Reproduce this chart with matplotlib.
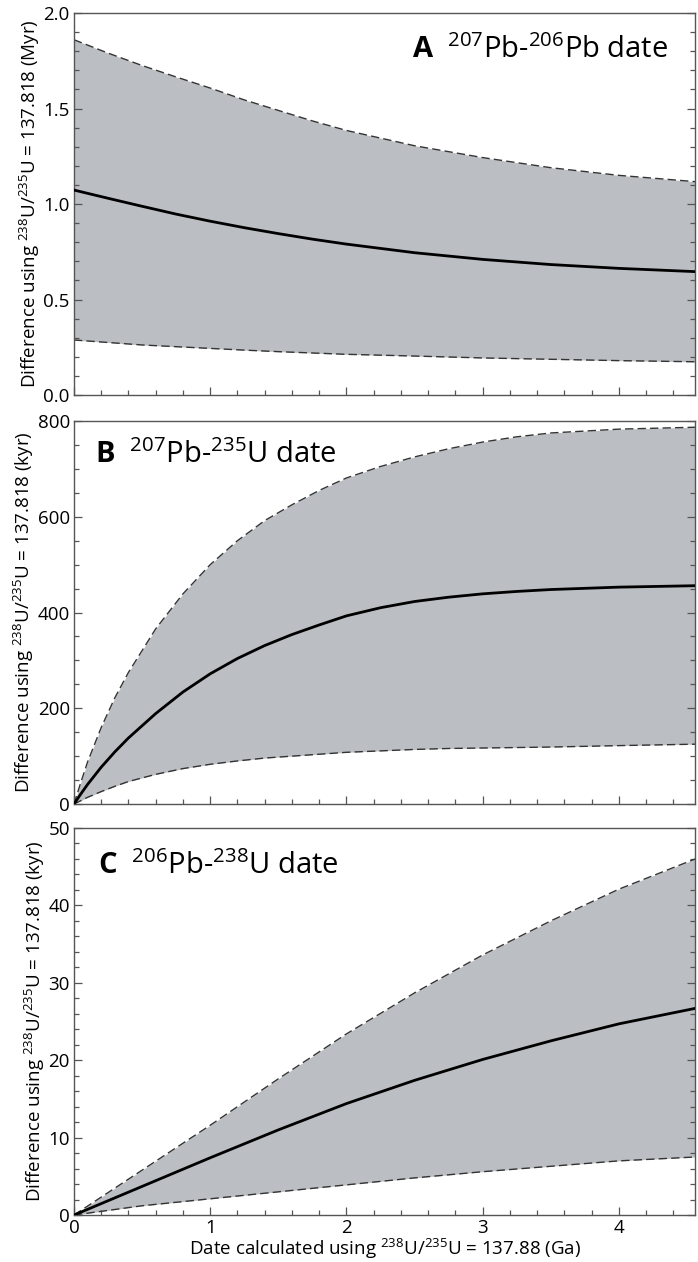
import matplotlib.pyplot as plt
from matplotlib.ticker import MultipleLocator

# --- Dati (data in Ga, differenze nelle unità di ogni pannello) ---
X_MAX = 4.56

x_A = [0, 0.25, 0.5, 0.75, 1.0, 1.25, 1.5, 1.75, 2.0, 2.5, 3.0, 3.5, 4.0, 4.56]
A_mid = [1.073, 1.030, 0.988, 0.947, 0.910, 0.876, 0.845, 0.816, 0.790,
         0.745, 0.710, 0.683, 0.663, 0.646]
A_hi = [1.86, 1.79, 1.725, 1.665, 1.607, 1.545, 1.49, 1.435, 1.385,
        1.305, 1.243, 1.19, 1.15, 1.117]
A_lo = [0.288, 0.275, 0.262, 0.253, 0.244, 0.235, 0.227, 0.220, 0.213,
        0.204, 0.194, 0.187, 0.180, 0.174]

x_B = [0, 0.05, 0.1, 0.2, 0.3, 0.4, 0.6, 0.8, 1.0, 1.2, 1.4, 1.6, 1.8, 2.0,
       2.25, 2.5, 2.75, 3.0, 3.25, 3.5, 4.0, 4.56]
B_mid = [0, 21, 41, 77, 109, 138, 189, 234, 272, 304, 331, 354, 374, 393,
         410, 423, 432, 439, 444, 448, 453, 456]
B_hi = [0, 45, 88, 160, 222, 275, 366, 439, 500, 550, 592, 625, 655, 681,
        705, 725, 742, 756, 767, 775, 783, 787]
B_lo = [0, 7, 14, 26, 37, 47, 62, 74, 83, 90, 96, 100, 104, 108,
        111, 114, 116, 117, 118, 119, 122, 125]

x_C = [0, 0.5, 1.0, 1.5, 2.0, 2.5, 3.0, 3.5, 4.0, 4.56]
C_mid = [0, 3.7, 7.4, 11.0, 14.4, 17.4, 20.1, 22.5, 24.7, 26.7]
C_hi = [0, 5.8, 11.6, 17.6, 23.4, 28.7, 33.6, 38.0, 42.1, 46.0]
C_lo = [0, 1.2, 2.1, 3.0, 3.9, 4.8, 5.6, 6.3, 7.0, 7.5]

FONT = 'Open Sans'
plt.rcParams['font.family'] = [FONT, 'DejaVu Sans']
plt.rcParams['mathtext.fontset'] = 'custom'
plt.rcParams['mathtext.rm'] = FONT
plt.rcParams['mathtext.it'] = FONT
plt.rcParams['mathtext.bf'] = FONT + ':bold'

GRIGIO = '#bbbec2'
BORDO = '#555555'
TRATTEGGIO = (0, (6, 3))

fig = plt.figure(figsize=(6.98, 12.62), dpi=100)
ax_A = fig.add_axes([0.106, 0.687, 0.890, 0.3027])
ax_B = fig.add_axes([0.106, 0.3629, 0.890, 0.3035])
ax_C = fig.add_axes([0.106, 0.0372, 0.890, 0.3067])

pannelli = [
    (ax_A, x_A, A_mid, A_hi, A_lo, (0, 2.0), 0.5, 0.1, 'Myr',
     r'$\mathbf{A}$  $^{207}$Pb-$^{206}$Pb date', (0.957, 0.903), 'right', '%.1f'),
    (ax_B, x_B, B_mid, B_hi, B_lo, (0, 800), 200, 50, 'kyr',
     r'$\mathbf{B}$  $^{207}$Pb-$^{235}$U date', (0.034, 0.911), 'left', '%d'),
    (ax_C, x_C, C_mid, C_hi, C_lo, (0, 50), 10, 2, 'kyr',
     r'$\mathbf{C}$  $^{206}$Pb-$^{238}$U date', (0.038, 0.902), 'left', '%d'),
]

for ax, x, mid, hi, lo, ylim, maj, mino, unita, titolo, pos, ha, fmt in pannelli:
    # banda di incertezza, limiti tratteggiati e curva centrale
    ax.fill_between(x, lo, hi, color=GRIGIO, linewidth=0, zorder=1)
    ax.plot(x, hi, color='#333333', linestyle=TRATTEGGIO, linewidth=1.0, zorder=2)
    ax.plot(x, lo, color='#333333', linestyle=TRATTEGGIO, linewidth=1.0, zorder=2)
    ax.plot(x, mid, color='black', linewidth=2.0, zorder=3)

    ax.set_xlim(0, X_MAX)
    ax.set_ylim(*ylim)
    ax.xaxis.set_major_locator(MultipleLocator(1))
    ax.xaxis.set_minor_locator(MultipleLocator(0.2))
    ax.yaxis.set_major_locator(MultipleLocator(maj))
    ax.yaxis.set_minor_locator(MultipleLocator(mino))
    ax.yaxis.set_major_formatter(plt.FormatStrFormatter(fmt))

    ax.tick_params(which='both', direction='in', top=False, right=True,
                   color=BORDO, width=0.9, labelsize=13.5, pad=3)
    ax.tick_params(which='major', length=6)
    ax.tick_params(which='minor', length=3.5)
    for s in ax.spines.values():
        s.set_color(BORDO)
        s.set_linewidth(1.0)

    ax.set_ylabel(r'Difference using $^{238}$U/$^{235}$U = 137.818 (%s)' % unita,
                  fontsize=13.5, labelpad=1)
    ax.text(pos[0], pos[1], titolo, transform=ax.transAxes, fontsize=21,
            ha=ha, va='center', zorder=4)

ax_A.tick_params(labelbottom=False)
ax_B.tick_params(labelbottom=False)
ax_C.set_xlabel(r'Date calculated using $^{238}$U/$^{235}$U = 137.88 (Ga)',
                fontsize=13.5, labelpad=0)

fig.savefig('out.png', dpi=100)
